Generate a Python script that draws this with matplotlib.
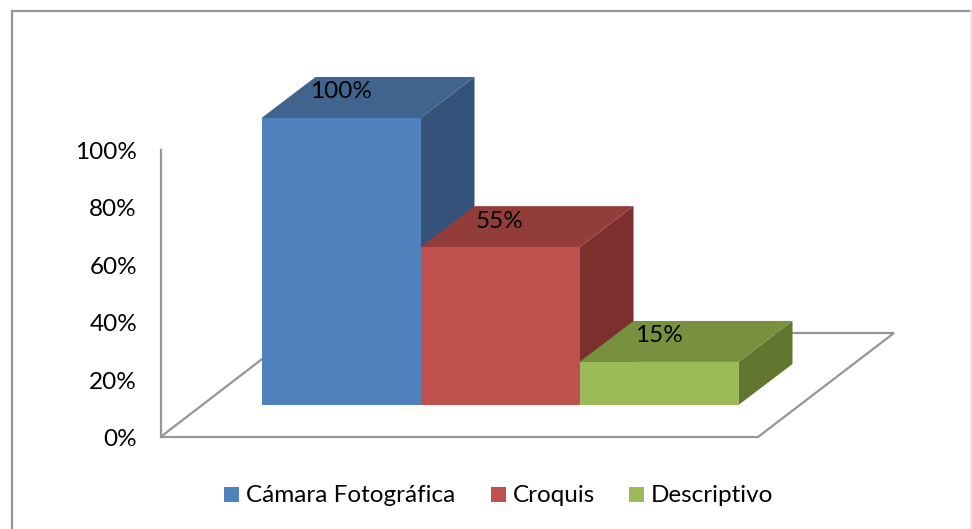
import matplotlib
matplotlib.use('Agg')
import matplotlib.pyplot as plt
from matplotlib.patches import Polygon, Rectangle

categories = ['Cámara Fotográfica', 'Croquis', 'Descriptivo']
values = [100, 55, 15]
ticks = [0, 20, 40, 60, 80, 100]
tick_labels = ['0%', '20%', '40%', '60%', '80%', '100%']

front_colors = ['#4F81BD', '#C0504D', '#9BBB59']
top_colors = ['#41648F', '#933D3B', '#77913F']
side_colors = ['#34527A', '#7D2F2E', '#62762F']
gray = '#969696'

plt.rcParams['font.family'] = ['Lato', 'DejaVu Sans']

# one x unit is one bar wide, one y unit is one percent
px_x = 159.0
px_y = 2.87
dx = 54 / px_x
dy = 41 / px_y
floor_dy = 32 / px_y


def X(p):
    return (p - 261.5) / px_x


def Y(p):
    return (405 - p) / px_y


fig = plt.figure(figsize=(9.72, 5.29), dpi=100)
ax = fig.add_axes([0, 0, 1, 1])
ax.set_xlim(X(0), X(972))
ax.set_ylim(Y(529), Y(0))
ax.axis('off')

# picture frame
ax.plot([X(12), X(12), X(971)], [Y(529), Y(10.5), Y(10.5)], color=gray, lw=1.6)
ax.plot([X(971), X(971)], [Y(529), Y(10.5)], color='#E8E8E8', lw=1.2)

# floor and wall
floor = [(X(160.5), -floor_dy), (X(758), -floor_dy), (X(894), Y(333)), (X(296), Y(333))]
ax.add_patch(Polygon(floor, closed=True, facecolor='white', edgecolor=gray, lw=1.6, zorder=1))
ax.plot([X(160.5), X(160.5)], [-floor_dy, 100 - floor_dy], color=gray, lw=1.6, zorder=1)

for t, lab in zip(ticks, tick_labels):
    ax.text(X(137), t - floor_dy - 2.5 / px_y, lab, ha='right', va='center', fontsize=17.5, color='black')

# 3d bars, left to right
for i, v in enumerate(values):
    ax.add_patch(Polygon([(i + 1, 0), (i + 1 + dx, dy), (i + 1 + dx, v + dy), (i + 1, v)],
                         closed=True, facecolor=side_colors[i], edgecolor='none', zorder=2 + i))
    ax.add_patch(Polygon([(i, v), (i + 1, v), (i + 1 + dx, v + dy), (i + dx, v + dy)],
                         closed=True, facecolor=top_colors[i], edgecolor='none', zorder=2 + i))
    ax.add_patch(Rectangle((i, 0), 1, v, facecolor=front_colors[i], edgecolor='none', zorder=2 + i))
    ax.text(i + 0.5, v + 9.1, '%d%%' % v, ha='center', va='center', fontsize=17.5, color='black', zorder=6)

# legend
swatch_x = [224, 491, 629]
label_x = [246, 513, 651]
for i, name in enumerate(categories):
    ax.add_patch(Rectangle((X(swatch_x[i]), Y(502)), 15 / px_x, 15 / px_y,
                           facecolor=front_colors[i], edgecolor='none'))
    ax.text(X(label_x[i]), Y(496), name, ha='left', va='center', fontsize=17.5, color='black')

fig.savefig('out.png', dpi=100)
